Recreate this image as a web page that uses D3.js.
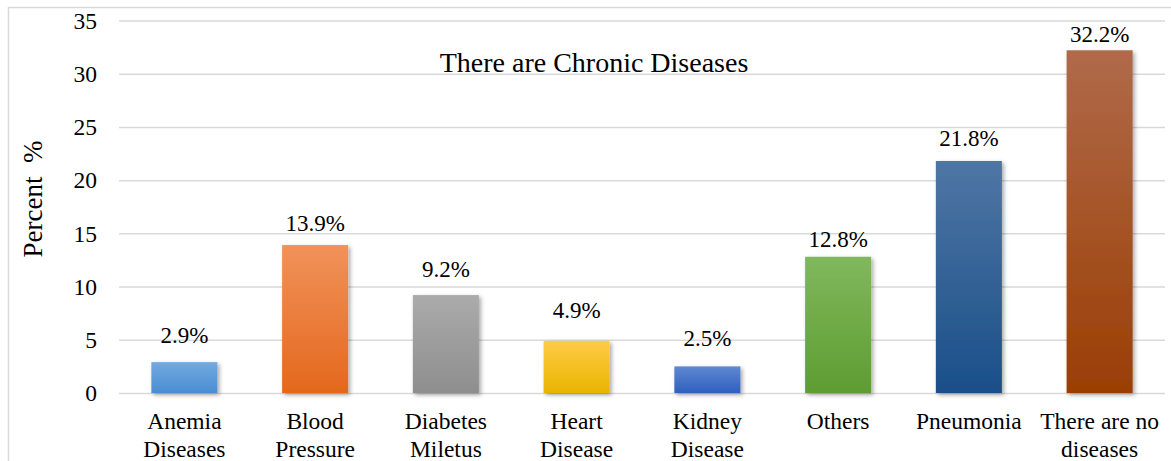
<!DOCTYPE html>
<html>
<head>
<meta charset="utf-8">
<script src="https://cdn.jsdelivr.net/npm/d3@7"></script>
<style>
  html, body { margin: 0; padding: 0; background: #fff; }
  svg { display: block; }
  svg text { font-family: "Liberation Serif", "Tinos", "Times New Roman", Times, "DejaVu Serif", serif; }
</style>
</head>
<body>
<svg id="chart" width="1171" height="461"></svg>
<script>
// Chronic disease categories (two-line labels) and their share in percent
const categories = [
  ["Anemia", "Diseases"],
  ["Blood", "Pressure"],
  ["Diabetes", "Miletus"],
  ["Heart", "Disease"],
  ["Kidney", "Disease"],
  ["Others"],
  ["Pneumonia"],
  ["There are no", "diseases"]
];
const percents = [2.9, 13.9, 9.2, 4.9, 2.5, 12.8, 21.8, 32.2];
const yTicks = [0, 5, 10, 15, 20, 25, 30, 35];
const chartTitle = "There are Chronic Diseases";
const yTitle = "Percent  %";

// Bar fills: [top, bottom] of each vertical gradient
const palette = [
  ["#73aae0", "#4a8dd2"],
  ["#f1925a", "#e4681d"],
  ["#ababab", "#8e8e8e"],
  ["#ffcb47", "#e8b400"],
  ["#5f88d2", "#2f5fbf"],
  ["#80b85c", "#5e9d31"],
  ["#4f76a4", "#1a4f89"],
  ["#b06a4a", "#9b3e04"]
];
// Extra lift (px) of each value label above its bar
const labelLift = [19, 14, 18, 23, 20, 10, 15, 8];

const svg = d3.select("#chart");
const plot = { left: 119, right: 1165, top: 20.5, bottom: 393 };

const x = d3.scaleBand()
  .domain(d3.range(categories.length))
  .range([plot.left, plot.right])
  .paddingInner(0.495)
  .paddingOuter(0.2475);

const y = d3.scaleLinear()
  .domain([0, 35])
  .range([plot.bottom, plot.top]);

// Outer chart frame
svg.append("rect")
  .attr("x", 8.5).attr("y", 7.5)
  .attr("width", 1180).attr("height", 480)
  .attr("fill", "none").attr("stroke", "#d9d9d9").attr("stroke-width", 1.5);

const defs = svg.append("defs");
palette.forEach((c, i) => {
  const g = defs.append("linearGradient")
    .attr("id", "grad" + i)
    .attr("x1", 0).attr("y1", 0).attr("x2", 0).attr("y2", 1);
  g.append("stop").attr("offset", "0%").attr("stop-color", c[0]);
  g.append("stop").attr("offset", "100%").attr("stop-color", c[1]);
});
const shadow = defs.append("filter").attr("id", "shadow")
  .attr("x", "-20%").attr("y", "-20%").attr("width", "150%").attr("height", "150%");
shadow.append("feDropShadow")
  .attr("dx", 2).attr("dy", 2).attr("stdDeviation", 2)
  .attr("flood-color", "#000").attr("flood-opacity", 0.35);

// Horizontal gridlines + y tick labels via d3 axis
const yAxis = d3.axisLeft(y)
  .tickValues(yTicks)
  .tickSize(-(plot.right - plot.left))
  .tickPadding(22)
  .tickFormat(d3.format("d"));

const gy = svg.append("g")
  .attr("transform", `translate(${plot.left},0)`)
  .call(yAxis)
  .attr("font-family", null)
  .attr("font-size", null);
gy.select(".domain").remove();
gy.selectAll(".tick line")
  .attr("stroke", "#d9d9d9").attr("stroke-width", 1.5);
gy.selectAll(".tick text")
  .attr("font-size", 23.5)
  .attr("fill", "#000")
  .attr("dy", "0.33em");

// Bars
svg.append("g").selectAll("rect")
  .data(percents)
  .join("rect")
  .attr("x", (d, i) => x(i))
  .attr("y", d => y(d))
  .attr("width", x.bandwidth())
  .attr("height", d => y(0) - y(d))
  .attr("fill", (d, i) => `url(#grad${i})`)
  .attr("filter", "url(#shadow)");

// Value labels
svg.append("g").selectAll("text")
  .data(percents)
  .join("text")
  .attr("x", (d, i) => x(i) + x.bandwidth() / 2)
  .attr("y", (d, i) => y(d) - labelLift[i])
  .attr("text-anchor", "middle")
  .attr("font-size", 23)
  .attr("fill", "#000")
  .text(d => d.toFixed(1) + "%");

// Category labels (up to two lines)
const xl = svg.append("g").selectAll("text")
  .data(categories)
  .join("text")
  .attr("x", (d, i) => x(i) + x.bandwidth() / 2)
  .attr("y", 429)
  .attr("text-anchor", "middle")
  .attr("font-size", 23.5)
  .attr("fill", "#000");
xl.selectAll("tspan")
  .data(d => d)
  .join("tspan")
  .attr("x", function () { return d3.select(this.parentNode).attr("x"); })
  .attr("dy", (d, j) => j === 0 ? 0 : 27.5)
  .text(d => d);

// Chart title
svg.append("text")
  .attr("x", 594).attr("y", 72)
  .attr("text-anchor", "middle")
  .attr("font-size", 28)
  .attr("fill", "#000")
  .text(chartTitle);

// Y axis title
svg.append("text")
  .attr("transform", "translate(42,199) rotate(-90)")
  .attr("text-anchor", "middle")
  .attr("font-size", 27)
  .attr("fill", "#000")
  .style("white-space", "pre")
  .text(yTitle);
</script>
</body>
</html>
